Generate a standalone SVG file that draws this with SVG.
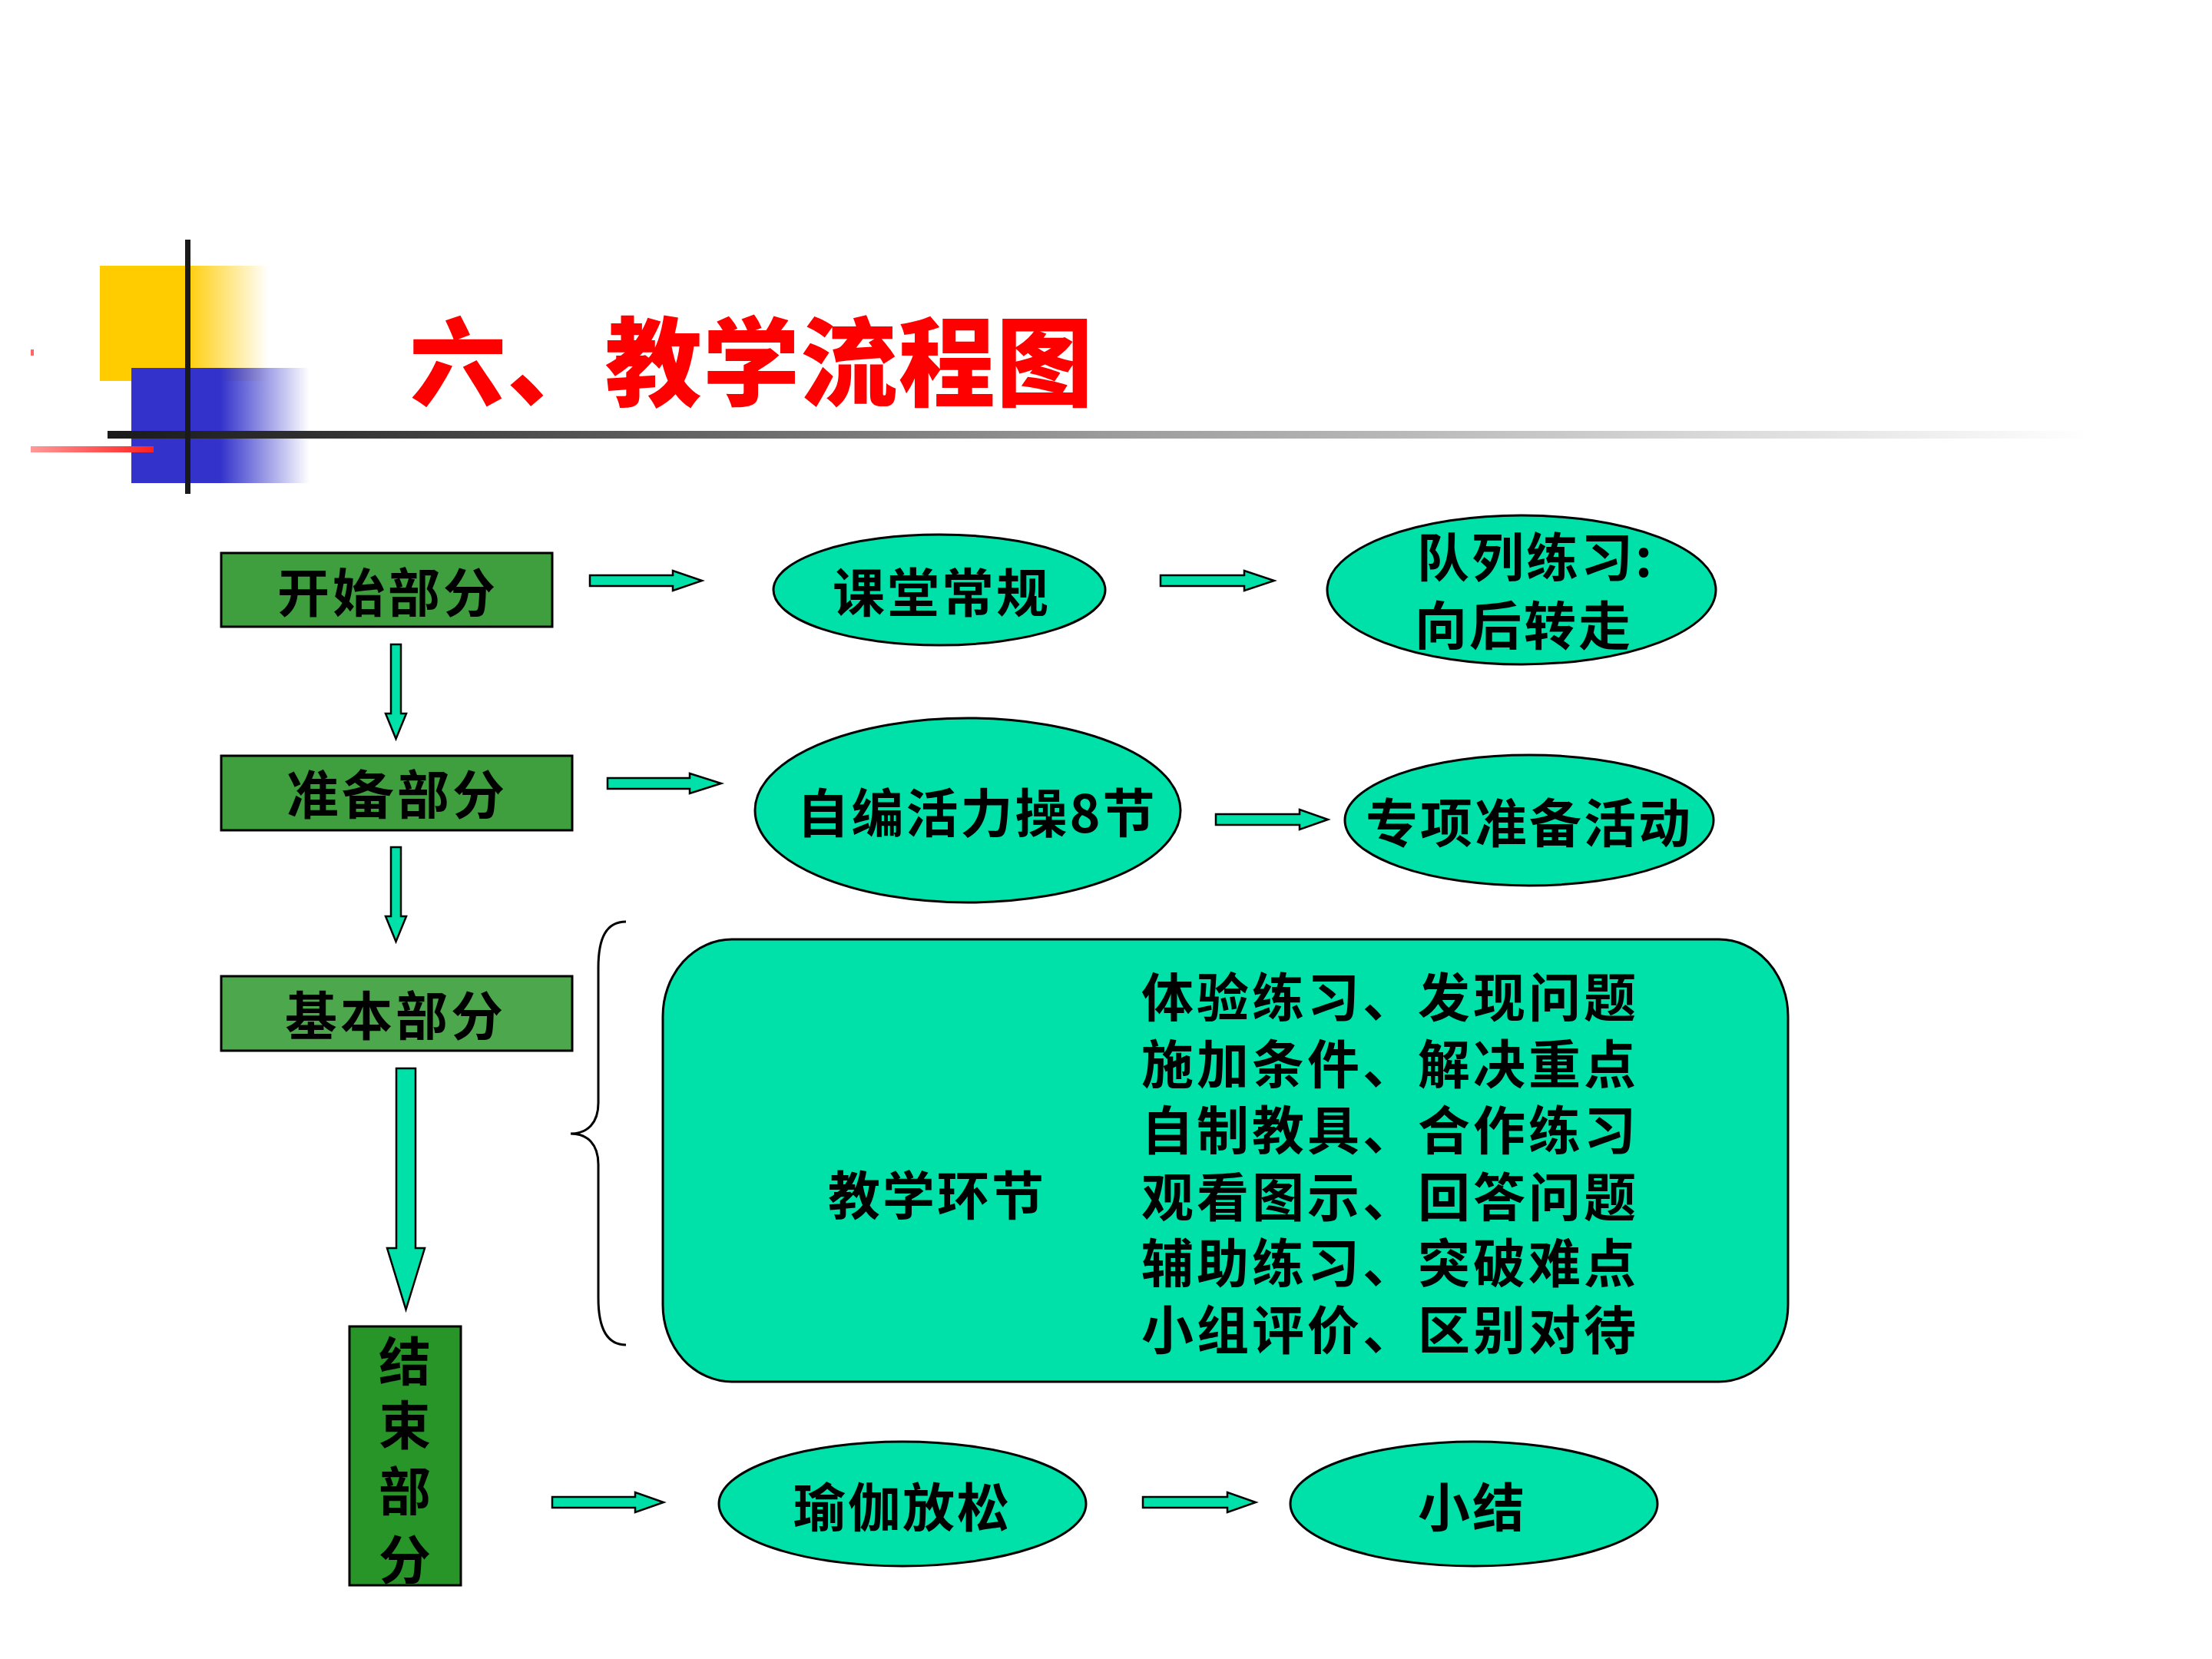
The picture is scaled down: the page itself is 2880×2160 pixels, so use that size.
<svg xmlns="http://www.w3.org/2000/svg" width="2880" height="2160" viewBox="0 0 2880 2160">
<defs>
<linearGradient id="gY" x1="0" y1="0" x2="1" y2="0"><stop offset="0" stop-color="#FFCC00"/><stop offset="0.5" stop-color="#FFCC00"/><stop offset="1" stop-color="#FFCC00" stop-opacity="0"/></linearGradient>
<linearGradient id="gB" x1="0" y1="0" x2="1" y2="0"><stop offset="0" stop-color="#3333CC"/><stop offset="0.5" stop-color="#3333CC"/><stop offset="1" stop-color="#3333CC" stop-opacity="0"/></linearGradient>
<linearGradient id="gBar" x1="0" y1="0" x2="1" y2="0"><stop offset="0" stop-color="#1a1a1a"/><stop offset="0.08" stop-color="#2a2a2a"/><stop offset="0.5" stop-color="#9a9a9a"/><stop offset="1" stop-color="#ffffff"/></linearGradient>
<linearGradient id="gR" x1="0" y1="0" x2="1" y2="0"><stop offset="0" stop-color="#FF9999"/><stop offset="1" stop-color="#FF2020"/></linearGradient>
<style>
.t{font-family:"Noto Sans CJK SC","Noto Sans CJK JP",sans-serif;font-weight:700;fill:#000;font-size:68px}
.title{font-family:"Noto Sans CJK SC","Noto Sans CJK JP",sans-serif;font-weight:900;fill:#FF0000;font-size:126px}
.box{stroke:#000;stroke-width:3}
.ell{fill:#00E1A9;stroke:#000;stroke-width:3}
.arr{fill:#00E1A9;stroke:#000;stroke-width:2.5;stroke-linejoin:miter}
.brace{fill:none;stroke:#000;stroke-width:3}
</style>
</defs>
<rect width="2880" height="2160" fill="#fff"/>
<g id="decor">
<rect x="130" y="346" width="220" height="150" fill="url(#gY)"/>
<rect x="171" y="479" width="232" height="150" fill="url(#gB)"/>
<rect x="140" y="561" width="2580" height="10" fill="url(#gBar)"/>
<rect x="241" y="312" width="7" height="331" fill="#1a1a1a"/>
<rect x="40" y="581" width="160" height="8" fill="url(#gR)"/>
<rect x="40" y="455" width="4" height="8" fill="#FF6666"/>
</g>
<g id="title"><text class="title" x="533" y="519" textLength="890">六、教学流程图</text></g>
<g id="connectors">
<path class="arr" d="M768,749 H876 V743 L914,756 L876,769 V763 H768 Z"/>
<path class="arr" d="M1511,749 H1620 V743 L1659,756 L1620,769 V763 H1511 Z"/>
<path class="arr" d="M791,1013 H898 V1007 L939,1020 L898,1033 V1027 H791 Z"/>
<path class="arr" d="M1583,1060 H1692 V1054 L1729,1067 L1692,1080 V1074 H1583 Z"/>
<path class="arr" d="M719,1949 H827 V1943 L864,1956 L827,1969 V1963 H719 Z"/>
<path class="arr" d="M1488,1949 H1598 V1943 L1635,1956 L1598,1969 V1963 H1488 Z"/>
<path class="arr" d="M509,839 H522 V929 H529 L515.5,962 L502,929 H509 Z"/>
<path class="arr" d="M509,1103 H522 V1193 H529 L515.5,1226 L502,1193 H509 Z"/>
<path class="arr" d="M516,1391 H541 V1625 H553 L528.5,1705 L504,1625 H516 Z"/>
<path class="brace" d="M815,1200 C790,1200 779,1220 779,1260 L779,1436 C779,1462 765,1476 743,1476 C765,1476 779,1490 779,1516 L779,1690 C779,1730 790,1751 815,1751"/>
</g>
<g id="n-start"><rect class="box" x="288" y="720" width="431" height="96" fill="#3F9F3F"/><text class="t" x="505" y="797" text-anchor="middle" letter-spacing="4">开始部分</text></g>
<g id="n-prep"><rect class="box" x="288" y="984" width="457" height="97" fill="#3F9F3F"/><text class="t" x="517" y="1060" text-anchor="middle" letter-spacing="4">准备部分</text></g>
<g id="n-basic"><rect class="box" x="288" y="1271" width="457" height="97" fill="#4DA84D"/><text class="t" x="515" y="1348" text-anchor="middle" letter-spacing="4">基本部分</text></g>
<g id="n-end"><rect class="box" x="455" y="1727" width="145" height="337" fill="#289528"/>
<text class="t" text-anchor="middle"><tspan x="527" y="1798">结</tspan><tspan x="527" y="1881">束</tspan><tspan x="527" y="1967">部</tspan><tspan x="527" y="2056">分</tspan></text></g>
<g id="n-routine"><ellipse class="ell" cx="1223" cy="768" rx="216" ry="72"/><text class="t" x="1226" y="797" text-anchor="middle" letter-spacing="3">课堂常规</text></g>
<g id="n-drill"><ellipse class="ell" cx="1981" cy="768" rx="253" ry="97"/><text class="t" letter-spacing="3"><tspan x="1845" y="751">队列练习:</tspan><tspan x="1842" y="840">向后转走</tspan></text></g>
<g id="n-aerobics"><ellipse class="ell" cx="1260" cy="1055" rx="277" ry="120"/><text class="t" x="1272" y="1084" text-anchor="middle" letter-spacing="3">自编活力操8节</text></g>
<g id="n-special"><ellipse class="ell" cx="1991" cy="1068" rx="240" ry="85"/><text class="t" x="1991" y="1097" text-anchor="middle" letter-spacing="3">专项准备活动</text></g>
<g id="n-teach"><rect class="ell" x="863" y="1223" width="1465" height="576" rx="90" ry="100"/>
<text class="t" x="1220" y="1582" text-anchor="middle" letter-spacing="3">教学环节</text>
<text class="t" letter-spacing="4"><tspan x="1486" y="1324">体验练习、发现问题</tspan><tspan x="1486" y="1411">施加条件、解决重点</tspan><tspan x="1486" y="1497">自制教具、合作练习</tspan><tspan x="1486" y="1584">观看图示、回答问题</tspan><tspan x="1486" y="1670">辅助练习、突破难点</tspan><tspan x="1486" y="1757">小组评价、区别对待</tspan></text></g>
<g id="n-yoga"><ellipse class="ell" cx="1175" cy="1958" rx="239" ry="81"/><text class="t" x="1175" y="1988" text-anchor="middle" letter-spacing="3">瑜伽放松</text></g>
<g id="n-summary"><ellipse class="ell" cx="1919" cy="1958" rx="239" ry="81"/><text class="t" x="1917" y="1988" text-anchor="middle" letter-spacing="3">小结</text></g>
</svg>
